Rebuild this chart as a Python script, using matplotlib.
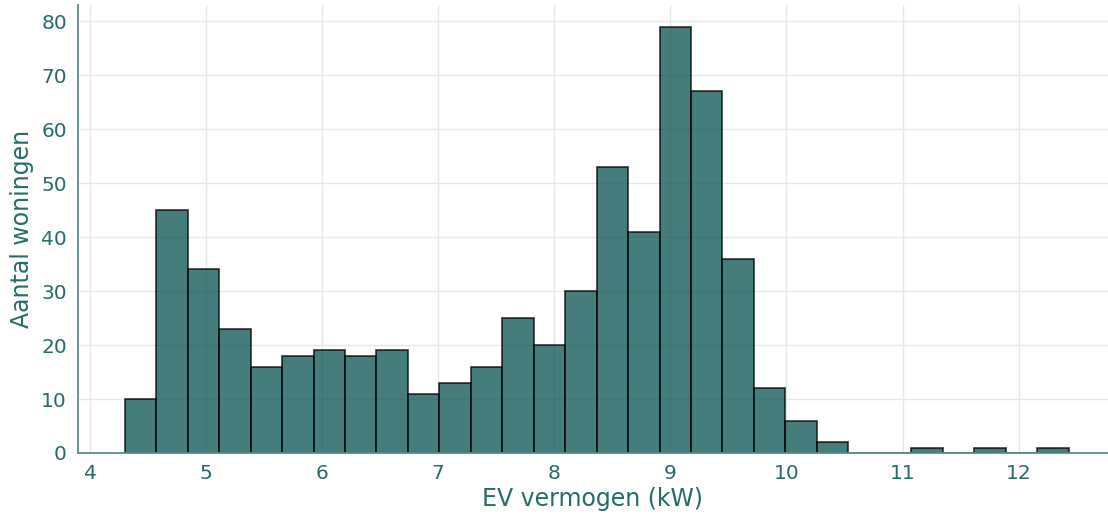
import matplotlib
matplotlib.use("Agg")
import matplotlib.pyplot as plt
import numpy as np

# histogram: 30 bins from 4.30 to 12.43 kW
bin_start = 4.30
bin_end = 12.43
counts = [10, 45, 34, 23, 16, 18, 19, 18, 19, 11,
          13, 16, 25, 20, 30, 53, 41, 79, 67, 36,
          12, 6, 2, 0, 0, 1, 0, 1, 0, 1]
xlabel = "EV vermogen (kW)"
ylabel = "Aantal woningen"

text_col = "#276b69"
spine_col = "#5b8e8d"

edges = np.linspace(bin_start, bin_end, len(counts) + 1)

fig = plt.figure(figsize=(11.08, 5.15), dpi=100)
ax = fig.add_axes([78 / 1108, 62 / 515, 1 - 78 / 1108, (453 - 5) / 515])

ax.hist(edges[:-1], bins=edges, weights=counts, color="#0f5956", alpha=0.78,
        edgecolor="black", linewidth=1.2, zorder=2)

ax.grid(True, color="#e6e6e6", linewidth=1, zorder=0)
ax.set_axisbelow(True)
for s in ["top", "right"]:
    ax.spines[s].set_visible(False)
for s in ["left", "bottom"]:
    ax.spines[s].set_color(spine_col)
    ax.spines[s].set_linewidth(1.3)

ax.set_xlim(3.897, 12.77)
ax.set_ylim(0, 83)
ax.set_xticks(range(4, 13))
ax.set_yticks(range(0, 81, 10))
ax.tick_params(length=0, labelsize=14.5, labelcolor=text_col, pad=8)
ax.set_xlabel(xlabel, fontsize=17, color=text_col, labelpad=3)
ax.set_ylabel(ylabel, fontsize=17, color=text_col, labelpad=5)

fig.savefig("out.png", dpi=100)
